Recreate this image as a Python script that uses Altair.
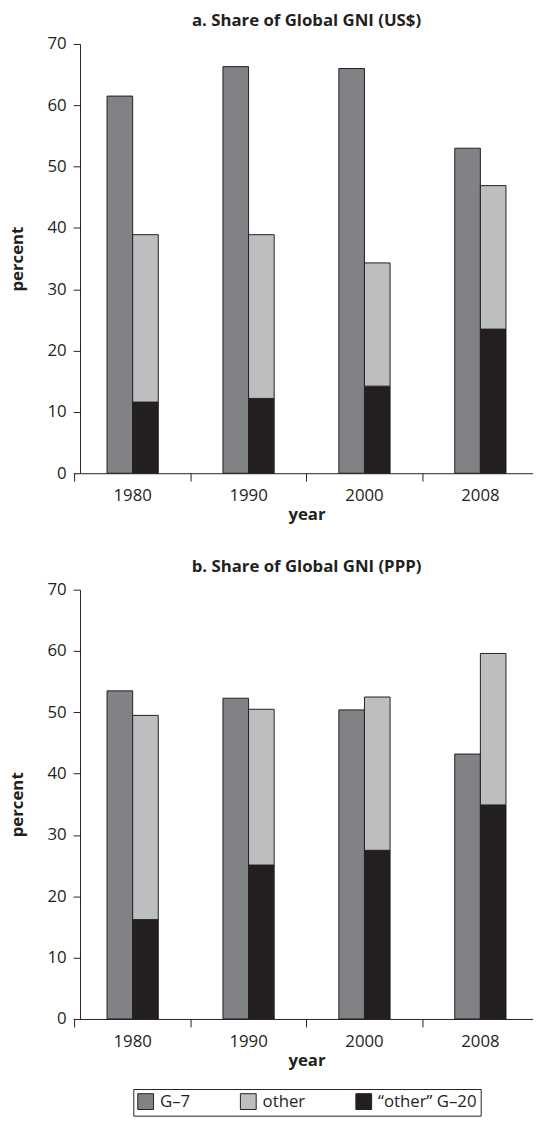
import altair as alt
import pandas as pd

years = ["1980", "1990", "2000", "2008"]
series_names = ["G–7", "other", "“other” G–20"]
series_colors = ["#808285", "#bcbec0", "#231f20"]

# panel a: share of global GNI (US$), percent
g7_usd = [61.5, 66.3, 66.0, 53.0]
other_total_usd = [38.9, 38.9, 34.3, 46.9]
other_g20_usd = [11.6, 12.2, 14.2, 23.5]

# panel b: share of global GNI (PPP), percent
g7_ppp = [53.5, 52.3, 50.4, 43.2]
other_total_ppp = [49.5, 50.5, 52.5, 59.6]
other_g20_ppp = [16.2, 25.1, 27.5, 34.9]

INK = "#231f20"
FONT = "Open Sans"


def build_frame(g7, other_total, g20):
    rows = []
    for i, yr in enumerate(years):
        rows.append({"year": yr, "pos": "a", "series": series_names[0], "lo": 0.0, "hi": g7[i]})
        rows.append({"year": yr, "pos": "b", "series": series_names[2], "lo": 0.0, "hi": g20[i]})
        rows.append({"year": yr, "pos": "b", "series": series_names[1], "lo": g20[i], "hi": other_total[i]})
    return pd.DataFrame(rows)


def panel(df, title):
    return (
        alt.Chart(df)
        .mark_bar(stroke=INK, strokeWidth=1)
        .encode(
            x=alt.X(
                "year:N",
                title="year",
                scale=alt.Scale(paddingInner=0.558, paddingOuter=0.233),
                axis=alt.Axis(
                    labelAngle=0,
                    bandPosition=-0.63,
                    tickSize=8,
                    labelPadding=7,
                    titlePadding=3,
                ),
            ),
            xOffset=alt.XOffset(
                "pos:N", scale=alt.Scale(domain=["a", "b"], paddingInner=0, paddingOuter=0)
            ),
            y=alt.Y(
                "hi:Q",
                title="percent",
                scale=alt.Scale(domain=[0, 70], nice=False),
                axis=alt.Axis(
                    values=[0, 10, 20, 30, 40, 50, 60, 70],
                    grid=False,
                    tickSize=7,
                    labelPadding=7,
                    titlePadding=21,
                ),
            ),
            y2="lo:Q",
            color=alt.Color(
                "series:N",
                scale=alt.Scale(domain=series_names, range=series_colors),
                legend=alt.Legend(
                    title=None,
                    orient="none",
                    direction="horizontal",
                    legendX=54,
                    legendY=1059,
                    symbolType="square",
                    symbolSize=256,
                    labelFontSize=17,
                    labelOffset=6,
                    columnPadding=48,
                ),
            ),
        )
        .properties(
            width=459,
            height=435,
            title=alt.TitleParams(
                title,
                frame="group",
                anchor="middle",
                offset=5,
                fontSize=17,
                fontWeight="bold",
                font=FONT,
                color=INK,
            ),
        )
    )


chart_a = panel(build_frame(g7_usd, other_total_usd, other_g20_usd), "a. Share of Global GNI (US$)")
chart_b = panel(build_frame(g7_ppp, other_total_ppp, other_g20_ppp), "b. Share of Global GNI (PPP)")

chart = (
    alt.vconcat(chart_a, chart_b, spacing=36)
    .properties(padding={"top": -3, "left": 0, "right": 0, "bottom": 0})
    .configure_view(stroke=None)
    .configure_axis(
        labelFont=FONT,
        labelFontSize=17,
        labelColor=INK,
        titleFont=FONT,
        titleFontSize=17,
        titleFontWeight="bold",
        titleColor=INK,
        domainColor=INK,
        domainWidth=1,
        tickColor=INK,
        tickWidth=1,
    )
    .configure_legend(
        strokeColor=INK,
        strokeWidth=1,
        padding=4,
        symbolStrokeColor=INK,
        symbolStrokeWidth=1,
        symbolOpacity=1,
        labelFont=FONT,
        labelColor=INK,
    )
)

chart.save("out.html", embed_options={"renderer": "svg", "actions": False})
